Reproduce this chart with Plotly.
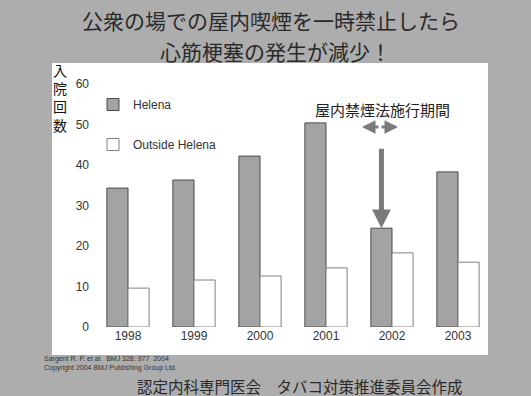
import plotly.graph_objects as go

# Acute myocardial infarction admissions, Helena vs. outside Helena
years = ["1998", "1999", "2000", "2001", "2002", "2003"]
helena = [34.3, 36.3, 42.2, 50.4, 24.4, 38.3]
outside_helena = [9.6, 11.6, 12.6, 14.6, 18.3, 16.0]
y_ticks = [0, 10, 20, 30, 40, 50, 60]

W, H = 531, 396
L, R, T, B = 95, 40, 84, 69
PW, PH = W - L - R, H - T - B
BARGAP = 0.36

def px(x):
    return (x - L) / PW

def py(y):
    return (H - B - y) / PH

SANS = "Liberation Sans, Arial, sans-serif"
JP = "Noto Sans CJK JP, sans-serif"
BG = "#adadad"

fig = go.Figure()
fig.add_trace(go.Bar(
    x=years, y=helena, name="Helena",
    marker=dict(color="#a3a3a3", line=dict(color="#4a4a4a", width=1)),
    legendgroup="a",
))
fig.add_trace(go.Bar(
    x=years, y=outside_helena, name="Outside Helena",
    marker=dict(color="#ffffff", line=dict(color="#808080", width=1)),
    legendgroup="b",
))

# white slide panel behind the chart
fig.add_shape(type="rect", xref="paper", yref="paper",
              x0=px(52), x1=px(488), y0=py(355), y1=py(63),
              fillcolor="white", line=dict(width=0), layer="below")

anns = []
# title, one annotation per line
anns.append(dict(text="公衆の場での屋内喫煙を一時禁止したら", x=px(271), y=py(20),
                 font=dict(family=JP, size=21, color="#2a2a2a")))
anns.append(dict(text="心筋梗塞の発生が減少！", x=px(275), y=py(51),
                 font=dict(family=JP, size=21, color="#2a2a2a")))
# vertical y-axis title
anns.append(dict(text="入<br>院<br>回<br>数", x=px(60), y=py(97),
                 font=dict(family=JP, size=14, color="#111")))
# ban period label
anns.append(dict(text="屋内禁煙法施行期間", x=px(382), y=py(110),
                 font=dict(family=JP, size=15, color="#222")))
# footer
anns.append(dict(text="Sargent R. P. et al.  BMJ 328: 977  2004<br>Copyright 2004 BMJ Publishing Group Ltd.",
                 x=px(42), y=py(363), xanchor="left", align="left",
                 font=dict(family=SANS, size=7, color="#333")))
anns.append(dict(text="認定内科専門医会　タバコ対策推進委員会作成", x=px(300), y=py(386),
                 font=dict(family=JP, size=15.5, color="#2a2a2a")))
for a in anns:
    a.update(xref="paper", yref="paper", showarrow=False)
    a.setdefault("xanchor", "center")
    a.setdefault("yanchor", "middle")

# double arrow marking the ban period
for tip, dx in [(362, 18), (398, -18)]:
    anns.append(dict(x=px(tip), y=py(127), xref="paper", yref="paper", text="",
                     showarrow=True, ax=dx, ay=0, arrowhead=2, arrowsize=0.9,
                     arrowwidth=3, arrowcolor="#7a7a7a"))

# long arrow pointing at the 2002 Helena bar
helena_offset = (1 - BARGAP) / 4
anns.append(dict(x=years.index("2002") - helena_offset, y=helena[years.index("2002")],
                 xref="x", yref="y", text="", showarrow=True, ax=0, ay=-81,
                 arrowhead=2, arrowsize=0.75, arrowwidth=5, arrowcolor="#7a7a7a"))

fig.update_layout(
    width=W, height=H,
    margin=dict(l=L, r=R, t=T, b=B, pad=0),
    paper_bgcolor=BG, plot_bgcolor="rgba(0,0,0,0)",
    barmode="group", bargap=BARGAP, bargroupgap=0,
    annotations=anns,
    legend=dict(x=px(93), y=py(90), xanchor="left", yanchor="top",
                bgcolor="rgba(0,0,0,0)", tracegroupgap=21, traceorder="grouped",
                font=dict(family=SANS, size=12, color="#333")),
    xaxis=dict(range=[-0.5, 5.5], showgrid=False, showline=False, zeroline=False,
               ticks="", tickfont=dict(family=SANS, size=12, color="#333")),
    yaxis=dict(range=[0, 60], tickvals=y_ticks, showgrid=False, showline=False,
               zeroline=False, ticks="", ticklabelstandoff=5,
               tickfont=dict(family=SANS, size=12, color="#333")),
    showlegend=True,
)

fig.write_html("out.html")
